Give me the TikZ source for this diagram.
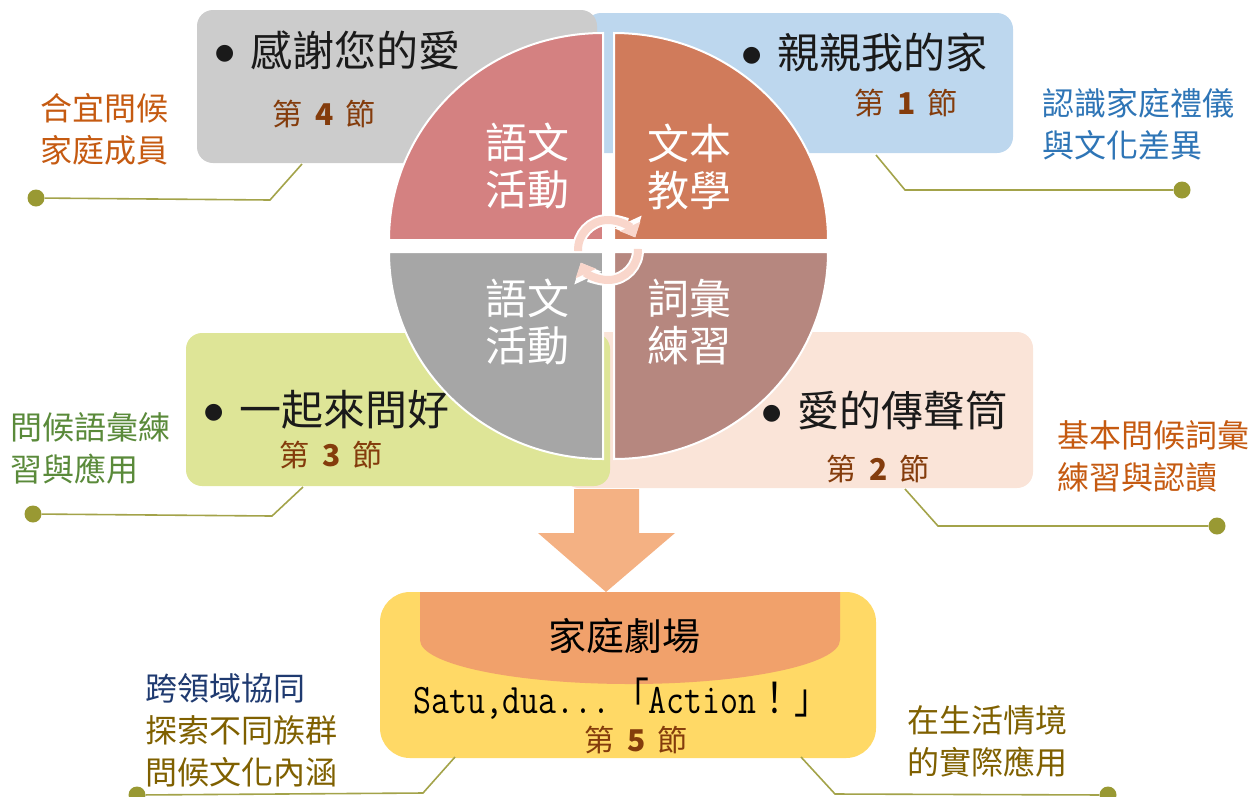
\documentclass[tikz,border=0pt]{standalone}
\usepackage{fontspec}
\setmainfont{Noto Sans CJK TC}
\newfontfamily\dejavu{DejaVu Sans}
\usetikzlibrary{arrows.meta}
\newcommand\fs[2]{\fontsize{#1}{#2}\selectfont}
\newcommand\bul{\makebox[35pt][l]{\raisebox{7pt}{\dejavu\fs{22}{22}●}}}
\newcommand\sessn[1]{第\hspace{13pt}{\bfseries #1}\hspace{11pt}節}
\definecolor{boxgray}{HTML}{CCCCCC}
\definecolor{boxblue}{HTML}{BDD7EE}
\definecolor{boxgreen}{HTML}{DEE597}
\definecolor{boxpeach}{HTML}{FAE4D8}
\definecolor{qtl}{HTML}{D48181}
\definecolor{qtr}{HTML}{D07B5B}
\definecolor{qbl}{HTML}{A6A6A6}
\definecolor{qbr}{HTML}{B6877F}
\definecolor{arrowpink}{HTML}{F9D6CB}
\definecolor{downarrow}{HTML}{F4B183}
\definecolor{yellowbox}{HTML}{FFD966}
\definecolor{stage}{HTML}{F1A16B}
\definecolor{sessbrown}{HTML}{843C0C}
\definecolor{linkc}{HTML}{A3A34A}
\definecolor{dotc}{HTML}{999933}
\definecolor{sideorange}{HTML}{C55A11}
\definecolor{sideblue}{HTML}{2E75B6}
\definecolor{sidegreen}{HTML}{5A8A3A}
\definecolor{sidenavy}{HTML}{1F3A70}
\definecolor{sidegold}{HTML}{7F6000}
\definecolor{titleblack}{HTML}{1A1A1A}
\begin{document}
\begin{tikzpicture}[x=1pt,y=-1pt,
  box/.style={rounded corners=16pt, inner sep=0pt, draw=none},
  quadfill/.style={draw=white, line width=2pt},
  sess/.style={text=sessbrown, font=\fs{30}{34}, inner sep=0pt},
  title/.style={anchor=west, inner sep=0pt, font=\fs{42}{46}, text=titleblack},
  quadtext/.style={text=white, font=\fs{42}{47}, align=center, inner sep=0pt},
  side/.style={anchor=west, align=left, inner sep=0pt, font=\fs{32}{42}},
  link/.style={draw=linkc, line width=1.6pt},
  dot/.style={circle, fill=dotc, minimum size=17pt, inner sep=0pt},
  rotw/.style={white, line width=12pt, -{Triangle[length=17pt,width=29pt]}},
  rotp/.style={arrowpink, line width=8pt, -{Triangle[length=12pt,width=22pt]}},
]
\useasboundingbox (0,0) rectangle (1260,796);

% lesson boxes
\node[box, fill=boxblue, minimum width=428pt, minimum height=140pt] (b1) at (799,83) {};
\node[box, fill=boxgray, minimum width=400pt, minimum height=153pt] (b4) at (397,86.5) {};
\node[box, fill=boxpeach, minimum width=470pt, minimum height=156pt] (b2) at (798,410) {};
\node[box, fill=boxgreen, minimum width=424pt, minimum height=153pt] (b3) at (398,409.5) {};

% pie quadrants
\fill[qtl, quadfill] (603,240) -- ++(-214,0) arc[start angle=180, end angle=270, x radius=214, y radius=207] -- cycle;
\fill[qtr, quadfill] (614,240) -- ++(0,-207) arc[start angle=270, end angle=360, x radius=214, y radius=207] -- cycle;
\fill[qbl, quadfill] (603,252) -- ++(-214,0) arc[start angle=180, end angle=90, x radius=214, y radius=207] -- cycle;
\fill[qbr, quadfill] (614,252) -- ++(0,207) arc[start angle=90, end angle=0, x radius=214, y radius=207] -- cycle;

% circular arrows
\coordinate (rc) at (608,250);
\draw[rotw] (rc) ++(178:30) arc[start angle=178, end angle=335, radius=30];
\draw[rotp] (rc) ++(178:30) arc[start angle=178, end angle=335, radius=30];
\draw[rotw] (rc) ++(-2:30) arc[start angle=-2, end angle=155, radius=30];
\draw[rotp] (rc) ++(-2:30) arc[start angle=-2, end angle=155, radius=30];

% quadrant texts
\node[quadtext] (q1) at (527,166) {語文\\活動};
\node[quadtext] (q2) at (689,167) {文本\\教學};
\node[quadtext] (q3) at (527,322) {語文\\活動};
\node[quadtext] (q4) at (689,322) {詞彙\\練習};

% box texts
\node[title] (t4) at (215,50) {\bul 感謝您的愛};
\node[sess] (s4) at (324,114) {\sessn{4}};
\node[title] (t1) at (742,52) {\bul 親親我的家};
\node[sess] (s1) at (906,103) {\sessn{1}};
\node[title] (t3) at (204,410) {\bul 一起來問好};
\node[sess] (s3) at (331,455) {\sessn{3}};
\node[title] (t2) at (762,410) {\bul 愛的傳聲筒};
\node[sess] (s2) at (878,469) {\sessn{2}};

% down arrow
\fill[downarrow] (574,489) -- (639,489) -- (639,533) -- (675,533) -- (606,592) -- (538,533) -- (574,533) -- cycle;

% final box
\node[box, rounded corners=30pt, fill=yellowbox, minimum width=496pt, minimum height=166pt] (b5) at (628,675) {};
\fill[stage] (420,592) -- (420,640) arc[start angle=180, end angle=0, x radius=210, y radius=44] -- (840,592) -- cycle;
\node[inner sep=0pt, font=\fs{38}{42}, text=black] (st) at (624,636) {家庭劇場};
\node[inner sep=0pt, anchor=base west, text=black] (act) at (413,713) {\scalebox{0.83}[1]{\fs{42}{46}\ttfamily Satu,dua...\makebox[46pt][r]{\rmfamily 「}Action\makebox[44pt][c]{\rmfamily ！}\makebox[44pt][r]{\rmfamily 」}}};
\node[sess] (s5) at (636,740) {\sessn{5}};

% side labels
\node[side, text=sideorange] (l4) at (40,129) {合宜問候\\家庭成員};
\node[side, text=sideblue] (l1) at (1042,124) {認識家庭禮儀\\與文化差異};
\node[side, text=sidegreen] (l3) at (10,448) {問候語彙練\\習與應用};
\node[side, text=sideorange] (l2) at (1057,456) {基本問候詞彙\\練習與認讀};
\node[side, align=left] (l5) at (145,730) {\textcolor{sidenavy}{跨領域協同}\\\textcolor{sidegold}{探索不同族群}\\\textcolor{sidegold}{問候文化內涵}};
\node[side, text=sidegold] (l6) at (907,741) {在生活情境\\的實際應用};

% connectors
\node[dot] (d4) at (36,198) {};
\node[dot] (d1) at (1182,190) {};
\node[dot] (d3) at (33,514) {};
\node[dot] (d2) at (1217,526) {};
\node[dot] (d5) at (137,795) {};
\node[dot] (d6) at (1108,795) {};
\coordinate (a4) at (302,164);
\coordinate (k4) at (270,200);
\coordinate (a1) at (876,155);
\coordinate (k1) at (905,190);
\coordinate (a3) at (303,487);
\coordinate (k3) at (272,516);
\coordinate (a2) at (905,489);
\coordinate (k2) at (938,526);
\coordinate (a5) at (455,757);
\coordinate (k5) at (423,793);
\coordinate (a6) at (801,757);
\coordinate (k6) at (835,794);
\draw[link] (a4) -- (k4) -- (d4);
\draw[link] (a1) -- (k1) -- (d1);
\draw[link] (a3) -- (k3) -- (d3);
\draw[link] (a2) -- (k2) -- (d2);
\draw[link] (a5) -- (k5) -- (d5);
\draw[link] (a6) -- (k6) -- (d6);
\end{tikzpicture}
\end{document}
